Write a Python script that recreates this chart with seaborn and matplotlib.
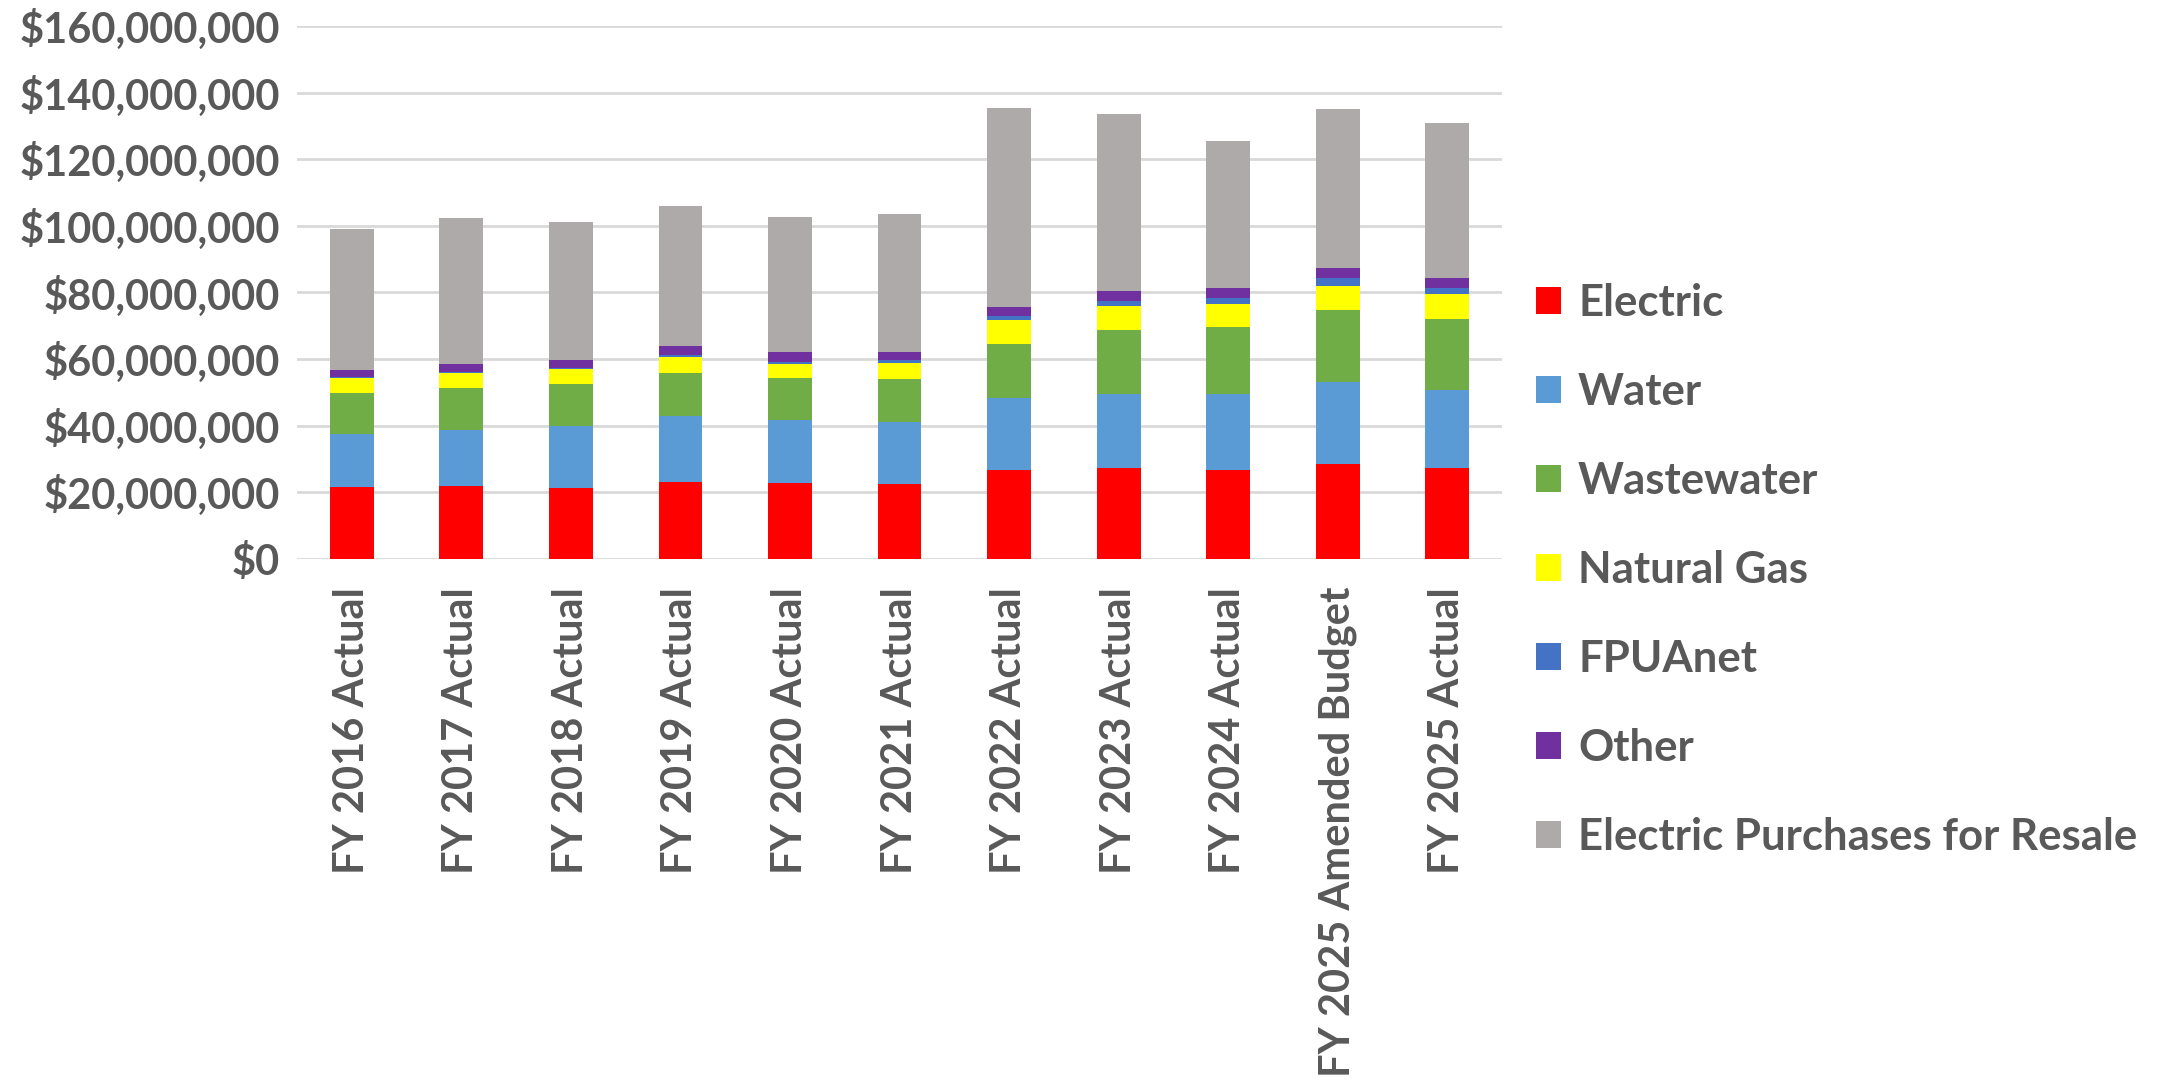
import numpy as np
import pandas as pd
import seaborn as sns
import matplotlib.pyplot as plt
from matplotlib.patches import Patch
from matplotlib.ticker import FuncFormatter

sns.set_style('white')
plt.rcParams['font.family'] = ['Lato', 'DejaVu Sans']
plt.rcParams['font.weight'] = 'bold'

years = ['FY 2016 Actual', 'FY 2017 Actual', 'FY 2018 Actual', 'FY 2019 Actual',
         'FY 2020 Actual', 'FY 2021 Actual', 'FY 2022 Actual', 'FY 2023 Actual',
         'FY 2024 Actual', 'FY 2025 Amended Budget', 'FY 2025 Actual']

# values in $ millions
electric = [21.5, 22.0, 21.2, 23.2, 22.9, 22.6, 26.8, 27.4, 26.6, 28.6, 27.2]
water = [16.1, 16.8, 18.8, 19.8, 18.7, 18.4, 21.6, 22.2, 23.0, 24.4, 23.6]
wastewater = [12.3, 12.6, 12.6, 12.9, 12.8, 13.1, 16.2, 19.2, 20.1, 21.8, 21.3]
natural_gas = [4.5, 4.5, 4.5, 4.8, 4.2, 4.8, 7.2, 7.2, 6.9, 7.2, 7.3]
fpuanet = [0.3, 0.3, 0.3, 0.6, 0.6, 0.9, 1.2, 1.5, 1.8, 2.4, 2.0]
other = [2.1, 2.4, 2.4, 2.7, 3.0, 2.4, 2.7, 3.0, 3.0, 3.0, 3.0]
resale = [42.3, 43.8, 41.4, 42.0, 40.5, 41.4, 59.7, 53.2, 44.1, 47.7, 46.5]

series = ['Electric', 'Water', 'Wastewater', 'Natural Gas', 'FPUAnet', 'Other',
          'Electric Purchases for Resale']
colors = ['#FF0000', '#5B9BD5', '#70AD47', '#FFFF00', '#4472C4', '#7030A0', '#AEAAAA']

df = pd.DataFrame({'year': years, 'Electric': electric, 'Water': water,
                   'Wastewater': wastewater, 'Natural Gas': natural_gas,
                   'FPUAnet': fpuanet, 'Other': other,
                   'Electric Purchases for Resale': resale})
df[series] = df[series] * 1e6
cum = df[series].cumsum(axis=1)

text_color = '#595959'

fig = plt.figure(figsize=(21.76, 10.92), dpi=100)
ax = fig.add_axes([0.1365, 0.4881, 0.5538, 0.4881])

# stack by overdrawing cumulative totals, top series first
for name, color in reversed(list(zip(series, colors))):
    sns.barplot(x=df['year'], y=cum[name], color=color, width=0.4,
                saturation=1, linewidth=0, ax=ax, zorder=3)

ax.set_ylim(0, 160e6)
ax.set_yticks(np.arange(0, 160e6 + 1, 20e6))
ax.yaxis.set_major_formatter(FuncFormatter(lambda v, p: f'${v:,.0f}'))
ax.grid(axis='y', color='#D9D9D9', linewidth=2, zorder=0)
ax.set_axisbelow(True)
for s in ax.spines.values():
    s.set_visible(False)
ax.set_xlabel('')
ax.set_ylabel('')
ax.tick_params(axis='y', length=0, pad=12, labelsize=30, labelcolor=text_color)
ax.tick_params(axis='x', length=0, pad=20, labelsize=30, labelcolor=text_color,
               labelrotation=90)

handles = [Patch(facecolor=c, edgecolor='none', label=n) for n, c in zip(series, colors)]
fig.legend(handles=handles, loc='center left', bbox_to_anchor=(0.688, 0.478),
           frameon=False, fontsize=31.5, labelcolor=text_color,
           handlelength=0.55, handleheight=0.55, handletextpad=0.4,
           labelspacing=1.12)

fig.savefig('out.png', dpi=100)
